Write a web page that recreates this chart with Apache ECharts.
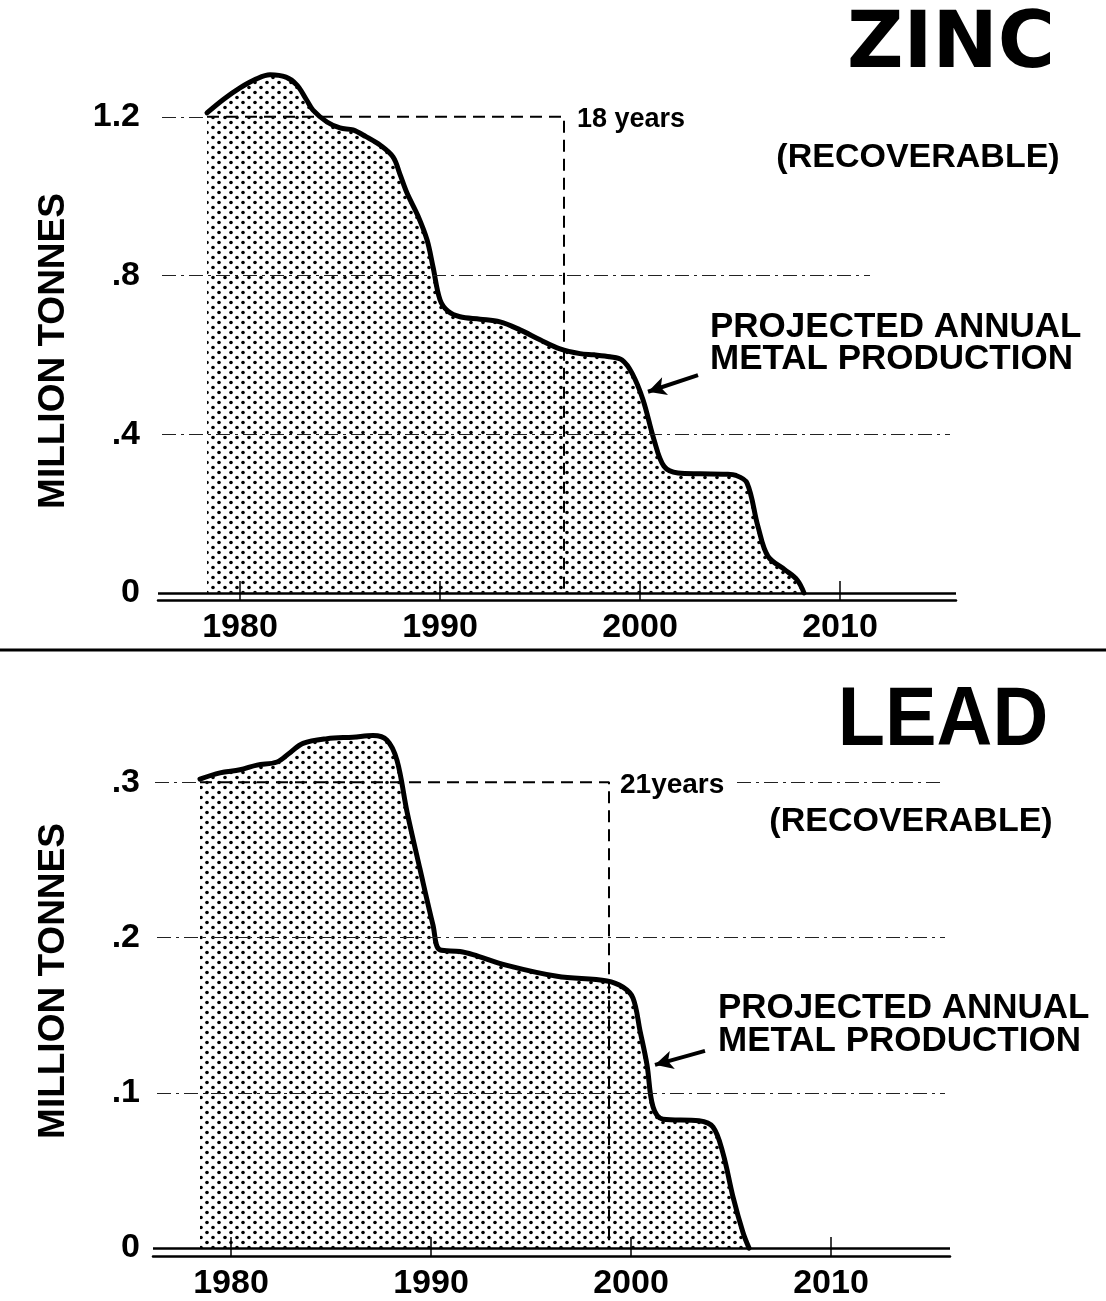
<!DOCTYPE html>
<html>
<head>
<meta charset="utf-8">
<script src="https://cdn.jsdelivr.net/npm/echarts@6/dist/echarts.min.js"></script>
<style>html,body{margin:0;padding:0;background:#fff}#c{width:1106px;height:1301px}</style>
</head>
<body>
<div id="c"></div>
<script>
// ---------- DATA ----------
const zincYears  = [1978.35,1979.2,1980.0,1980.8,1981.5,1982.3,1982.85,1983.3,1983.65,1984.35,1985.0,1985.65,1986.3,1987.0,1987.65,1988.0,1988.35,1988.9,1989.35,1989.65,1990.0,1990.4,1991.0,1992.0,1993.0,1994.0,1995.0,1996.0,1997.0,1997.7,1998.5,1999.1,1999.6,2000.15,2000.7,2001.2,2001.9,2003.0,2004.3,2004.8,2005.35,2005.9,2006.4,2007.25,2007.85,2008.2];
const zincValues = [1.21,1.245,1.273,1.295,1.306,1.30,1.28,1.245,1.217,1.187,1.172,1.167,1.15,1.129,1.099,1.055,1.008,0.95,0.89,0.822,0.739,0.71,0.696,0.69,0.683,0.663,0.638,0.615,0.603,0.600,0.595,0.587,0.554,0.487,0.386,0.319,0.302,0.300,0.299,0.296,0.277,0.167,0.092,0.058,0.033,0.0];
const leadYears  = [1978.45,1979.45,1980.45,1981.3,1982.3,1982.95,1983.6,1984.8,1986.1,1987.1,1987.8,1988.3,1988.8,1989.45,1990.1,1990.45,1991.45,1992.1,1993.8,1996.3,1998.8,1999.6,2000.1,2000.45,2000.8,2001.1,2001.6,2003.4,2004.1,2004.6,2005.1,2005.6,2005.9];
const leadValues = [0.302,0.306,0.308,0.311,0.313,0.319,0.325,0.328,0.329,0.330,0.327,0.314,0.281,0.244,0.208,0.192,0.191,0.189,0.182,0.175,0.172,0.168,0.161,0.140,0.118,0.091,0.083,0.082,0.078,0.061,0.033,0.010,0.0];

// life brackets: [startYear, endYear, level]
const zincBracket = [1978.35, 1996.2, 1.2];
const leadBracket = [1978.45, 1998.9, 0.3];

const xTickValues = [1980, 1990, 2000, 2010];
const zincYTicks = [0, 0.4, 0.8, 1.2];
const zincYLabels = ['0', '.4', '.8', '1.2'];
const leadYTicks = [0, 0.1, 0.2, 0.3];
const leadYLabels = ['0', '.1', '.2', '.3'];

// ---------- STIPPLE PATTERN ----------
function makeStipple() {
  const c = document.createElement('canvas');
  c.width = 12; c.height = 10;
  const g = c.getContext('2d');
  g.fillStyle = '#000';
  [[3, 2.5], [9, 7.5]].forEach(p => {
    g.beginPath(); g.arc(p[0], p[1], 1.8, 0, Math.PI * 2); g.fill();
  });
  return c;
}
const stipple = makeStipple();

const FONT = 'Liberation Sans, Arial, sans-serif';
const pair = (a, b) => a.map((v, i) => [v, b[i]]);
const gridLine = { type: [14, 5, 3, 5], width: 1.2, color: '#222' };

function build(idx, years, values, bracket, gridSegs, arrow) {
  return [
    {
      type: 'line', xAxisIndex: idx, yAxisIndex: idx,
      data: pair(years, values),
      showSymbol: false, smooth: 0.35,
      lineStyle: { color: '#000', width: 5, join: 'round', cap: 'round' },
      areaStyle: { color: { image: stipple, repeat: 'repeat' }, opacity: 1 },
      z: 2,
      markLine: {
        silent: true, symbol: ['none', 'none'], animation: false,
        label: { show: false },
        data: [
          [{ coord: arrow[0], symbol: 'none' },
           { coord: arrow[1], symbol: 'arrow', symbolSize: [14, 18] }]
        ],
        lineStyle: { color: '#000', width: 4, type: 'solid' }
      }
    },
    {
      type: 'line', xAxisIndex: idx, yAxisIndex: idx,
      data: [[bracket[0], bracket[2]], [bracket[1], bracket[2]], [bracket[1], 0]],
      showSymbol: false,
      lineStyle: { color: '#000', width: 2, type: [12, 7] },
      z: 3,
      markLine: {
        silent: true, symbol: ['none', 'none'], animation: false,
        label: { show: false },
        data: [
          { yAxis: 0, lineStyle: { color: '#000', width: 2.5, type: 'solid' } }
        ].concat(gridSegs.map(s => [
          { coord: [s[0], s[2]], lineStyle: gridLine },
          { coord: [s[1], s[2]] }
        ]))
      }
    }
  ];
}

const zincGridSegs = [[1976.1, 1978.3, 1.2], [1976.1, 2011.5, 0.8], [1976.1, 2015.5, 0.4]];
const leadGridSegs = [[1976.2, 1978.4, 0.3], [2005.3, 2015.7, 0.3], [1976.3, 2015.7, 0.2], [1976.3, 2015.7, 0.1]];

function xAxisCfg(idx, min, max) {
  return {
    type: 'value', gridIndex: idx, min: min, max: max,
    axisLine: { show: true, onZero: false, lineStyle: { color: '#000', width: 2.5 } },
    axisTick: { show: true, inside: true, length: 19, customValues: xTickValues, lineStyle: { color: '#000', width: 1.5 } },
    axisLabel: { customValues: xTickValues, formatter: v => String(Math.round(v)), color: '#000', fontFamily: FONT, fontWeight: 'bold', fontSize: 34, margin: 11 },
    splitLine: { show: false }
  };
}
function yAxisCfg(idx, min, max, ticks, labels, margin) {
  return {
    type: 'value', gridIndex: idx, min: min, max: max,
    axisLine: { show: false }, axisTick: { show: false }, splitLine: { show: false },
    axisLabel: {
      customValues: ticks, color: '#000', fontFamily: FONT, fontWeight: 'bold', fontSize: 34, margin: margin,
      formatter: v => { const k = ticks.findIndex(t => Math.abs(t - v) < 1e-6); return k >= 0 ? labels[k] : ''; }
    }
  };
}

const txt = (x, y, text, size, opts) => Object.assign({
  type: 'text', silent: true,
  style: Object.assign({ x: x, y: y, text: text, fill: '#000', fontFamily: FONT, fontWeight: 'bold', fontSize: size, align: 'center', verticalAlign: 'middle' }, (opts && opts.style) || {})
}, (opts && opts.el) || {});

const chart = echarts.init(document.getElementById('c'));
chart.setOption({
  animation: false,
  backgroundColor: '#fff',
  grid: [
    { left: 158, right: 150, top: 37.5, bottom: 701 },
    { left: 153, right: 156, top: 689, bottom: 41 }
  ],
  xAxis: [xAxisCfg(0, 1975.9, 2015.8), xAxisCfg(1, 1976.1, 2015.95)],
  yAxis: [yAxisCfg(0, -0.018, 1.4, zincYTicks, zincYLabels, 18), yAxisCfg(1, -0.0051, 0.36, leadYTicks, leadYLabels, 13)],
  series: [].concat(
    build(0, zincYears, zincValues, zincBracket, zincGridSegs, [[2002.9, 0.549], [2000.4, 0.507]]),
    build(1, leadYears, leadValues, leadBracket, leadGridSegs, [[2003.7, 0.127], [2001.2, 0.118]])
  ),
  graphic: [
    txt(951, 47, 'ZINC', 78, { style: { fontFamily: 'DejaVu Sans', fontWeight: 'bold' } }),
    txt(943, 722, 'LEAD', 84, { el: { scaleX: 0.92, originX: 943, originY: 722 } }),
    txt(577, 120, '18 years', 27, { style: { align: 'left' } }),
    txt(620, 785, '21years', 28, { style: { align: 'left' } }),
    txt(918, 158, '(RECOVERABLE)', 34),
    txt(911, 822, '(RECOVERABLE)', 34),
    txt(710, 327, 'PROJECTED ANNUAL', 35, { style: { align: 'left' } }),
    txt(710, 359, 'METAL PRODUCTION', 35, { style: { align: 'left' } }),
    txt(718, 1008, 'PROJECTED ANNUAL', 35, { style: { align: 'left' } }),
    txt(718, 1041, 'METAL PRODUCTION', 35, { style: { align: 'left' } }),
    txt(0, 0, 'MILLION TONNES', 37, { el: { x: 54, y: 351, rotation: Math.PI / 2 } }),
    txt(0, 0, 'MILLION TONNES', 37, { el: { x: 54, y: 981, rotation: Math.PI / 2 } }),
    { type: 'line', silent: true, shape: { x1: 0, y1: 650, x2: 1106, y2: 650 }, style: { stroke: '#000', lineWidth: 3 } }
  ]
});
</script>
</body>
</html>
